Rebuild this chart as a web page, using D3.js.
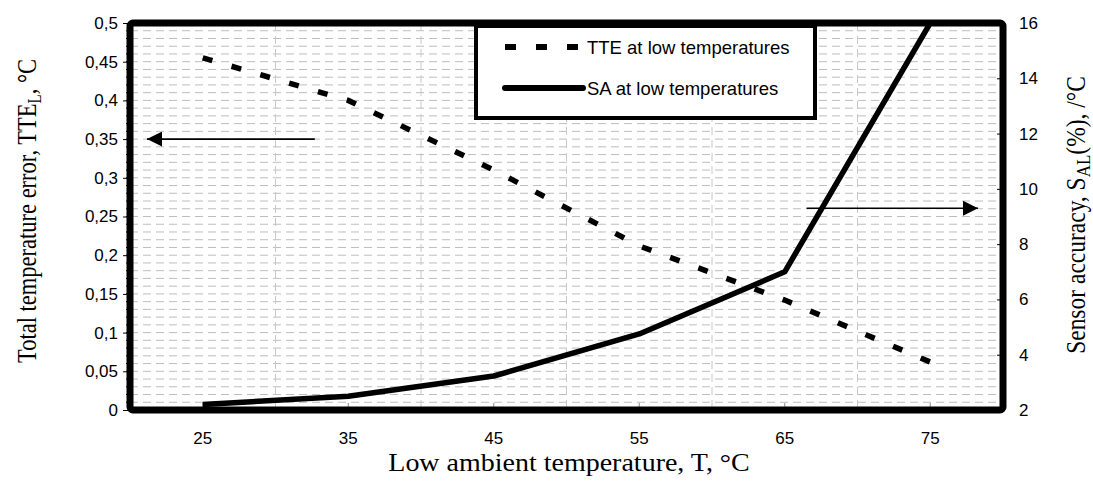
<!DOCTYPE html>
<html>
<head>
<meta charset="utf-8">
<script src="https://cdn.jsdelivr.net/npm/d3@7"></script>
<style>
body{margin:0;background:#fff}
.tick text{font-family:'Liberation Sans',Arial,sans-serif;font-size:17px;fill:#000}
.title{font-family:'Liberation Serif','Times New Roman',serif;fill:#000}
</style>
</head>
<body>
<svg class="graph"></svg>
<script>
let margin={top:23,left:130,right:90,bottom:75}
let W=1093,H=485
let width=W-margin.left-margin.right
let height=H-margin.top-margin.bottom
let svg=d3.select('.graph').attr('width',W).attr('height',H)

// data
let categories=['25','35','45','55','65','75']
let tteValues=[0.455,0.40,0.31,0.212,0.142,0.062]
let saValues=[2.2,2.5,3.23,4.75,7.0,16.0]
let leftTicks=[0,0.05,0.1,0.15,0.2,0.25,0.3,0.35,0.4,0.45,0.5]
let rightTicks=[2,4,6,8,10,12,14,16]
let legendNames=['TTE at low temperatures','SA at low temperatures']

let x0=margin.left, x1=margin.left+width
let y0=margin.top+height, y1=margin.top

let xscale=d3.scaleBand().domain(categories).range([x0,x1]).padding(0)
let yleft=d3.scaleLinear().domain([0,0.5]).range([y0,y1])
let yright=d3.scaleLinear().domain([2,16]).range([y0,y1])
let bw=xscale.bandwidth()
let cx=c=>xscale(c)+bw/2

let fmt=d=>String(d).replace('.',',')
let minor=d3.range(1,50).map(i=>i*0.01)

// horizontal minor gridlines every 0.01
svg.append('g').selectAll('line')
   .data(minor)
   .join('line')
   .attr('x1',x0).attr('x2',x1)
   .attr('y1',d=>yleft(d)).attr('y2',d=>yleft(d))
   .attr('stroke','#bdbdbd').attr('stroke-width',1)
   .attr('stroke-dasharray','8,5')

// vertical gridlines at the category boundaries
svg.append('g').selectAll('line')
   .data(categories.slice(1))
   .join('line')
   .attr('x1',d=>xscale(d)).attr('x2',d=>xscale(d))
   .attr('y1',y1).attr('y2',y0)
   .attr('stroke','#c8c8c8').attr('stroke-width',1)
   .attr('stroke-dasharray','8,5')

// small minor ticks on left border
svg.append('g').selectAll('line')
   .data(minor)
   .join('line')
   .attr('x1',x0-4).attr('x2',x0)
   .attr('y1',d=>yleft(d)).attr('y2',d=>yleft(d))
   .attr('stroke','#000').attr('stroke-width',1)

// left axis
let yaxis=svg.append('g').attr('transform',`translate(${x0},0)`)
   .call(d3.axisLeft(yleft).tickValues(leftTicks).tickFormat(fmt).tickSize(7).tickPadding(5))
yaxis.select('.domain').remove()

// right axis, ticks pointing inwards
let yaxis2=svg.append('g').attr('transform',`translate(${x1},0)`)
   .call(d3.axisRight(yright).tickValues(rightTicks).tickSize(6).tickPadding(10))
yaxis2.select('.domain').remove()
yaxis2.selectAll('.tick line').attr('x2',-6)

// bottom axis
let xaxis=svg.append('g').attr('transform',`translate(0,${y0})`)
   .call(d3.axisBottom(xscale).tickSize(0).tickPadding(22))
xaxis.select('.domain').remove()
xaxis.selectAll('.tick line').remove()
svg.append('g').selectAll('line')
   .data(categories)
   .join('line')
   .attr('x1',d=>cx(d)).attr('x2',d=>cx(d))
   .attr('y1',y0-7).attr('y2',y0)
   .attr('stroke','#888').attr('stroke-width',1)

// lines
let tteLine=d3.line().x((d,i)=>cx(categories[i])).y(d=>yleft(d))
let saLine=d3.line().x((d,i)=>cx(categories[i])).y(d=>yright(d))

let defs=svg.append('defs')
defs.append('clipPath').attr('id','plotclip')
   .append('rect').attr('x',x0).attr('y',y1).attr('width',width).attr('height',height)

svg.append('path')
   .datum(tteValues)
   .attr('d',tteLine)
   .attr('fill','none').attr('stroke','#000').attr('stroke-width',5.5)
   .attr('stroke-dasharray','10,20')

svg.append('path')
   .datum(saValues)
   .attr('d',saLine)
   .attr('clip-path','url(#plotclip)')
   .attr('fill','none').attr('stroke','#000').attr('stroke-width',5.5)
   .attr('stroke-linejoin','round')

// plot border
svg.append('rect')
   .attr('x',x0).attr('y',y1).attr('width',width).attr('height',height)
   .attr('rx',3)
   .attr('fill','none').attr('stroke','#000').attr('stroke-width',7)

// arrows
defs.append('marker').attr('id','ahead')
   .attr('viewBox','0 0 10 10').attr('refX',10).attr('refY',5)
   .attr('markerWidth',16).attr('markerHeight',15).attr('markerUnits','userSpaceOnUse')
   .attr('orient','auto')
   .append('path').attr('d','M0,0 L10,5 L0,10 Z').attr('fill','#000')

svg.append('line')
   .attr('x1',xscale('35')+bw*0.27).attr('x2',x0+17)
   .attr('y1',yleft(0.35)).attr('y2',yleft(0.35))
   .attr('stroke','#000').attr('stroke-width',1.6)
   .attr('marker-end','url(#ahead)')
svg.append('line')
   .attr('x1',xscale('65')+bw*0.65).attr('x2',x1-25)
   .attr('y1',yright(9.3)).attr('y2',yright(9.3))
   .attr('stroke','#000').attr('stroke-width',1.6)
   .attr('marker-end','url(#ahead)')

// legend
let lg=svg.append('g')
lg.append('rect')
   .attr('x',476).attr('y',y1+3).attr('width',339).attr('height',92)
   .attr('fill','#fff').attr('stroke','#000').attr('stroke-width',4)
let rows=[47,88]
legendNames.forEach((n,i)=>{
    lg.append('line')
      .attr('x1',505).attr('x2',i==0?578:583)
      .attr('y1',rows[i]).attr('y2',rows[i])
      .attr('stroke','#000').attr('stroke-width',6)
      .attr('stroke-linecap',i==0?'butt':'round')
      .attr('stroke-dasharray',i==0?'11,20':null)
    lg.append('text')
      .attr('x',587).attr('y',rows[i]+7)
      .style('font-family',"'Liberation Sans',Arial,sans-serif")
      .style('font-size','18.5px')
      .text(n)
})

// axis titles (the picture is stretched a little horizontally)
svg.append('text').attr('class','title')
   .attr('transform','translate(569,471) scale(1.12,1)')
   .attr('text-anchor','middle').style('font-size','25px')
   .text('Low ambient temperature, T, °C')

let lt=svg.append('text').attr('class','title')
   .attr('transform',`translate(36,211) scale(1.2,1) rotate(-90)`)
   .attr('text-anchor','middle').style('font-size','22.5px')
lt.append('tspan').text('Total temperature error, TTE')
lt.append('tspan').attr('font-size','15px').attr('dy',4).text('L')
lt.append('tspan').attr('dy',-4).text(', °C')

let rt=svg.append('text').attr('class','title')
   .attr('transform',`translate(1085,215) scale(1.15,1) rotate(-90)`)
   .attr('text-anchor','middle').style('font-size','23.5px')
rt.append('tspan').text('Sensor accuracy, S')
rt.append('tspan').attr('font-size','17px').attr('dy',4).text('AL')
rt.append('tspan').attr('dy',-4).text('(%), /°C')
</script>
</body>
</html>
